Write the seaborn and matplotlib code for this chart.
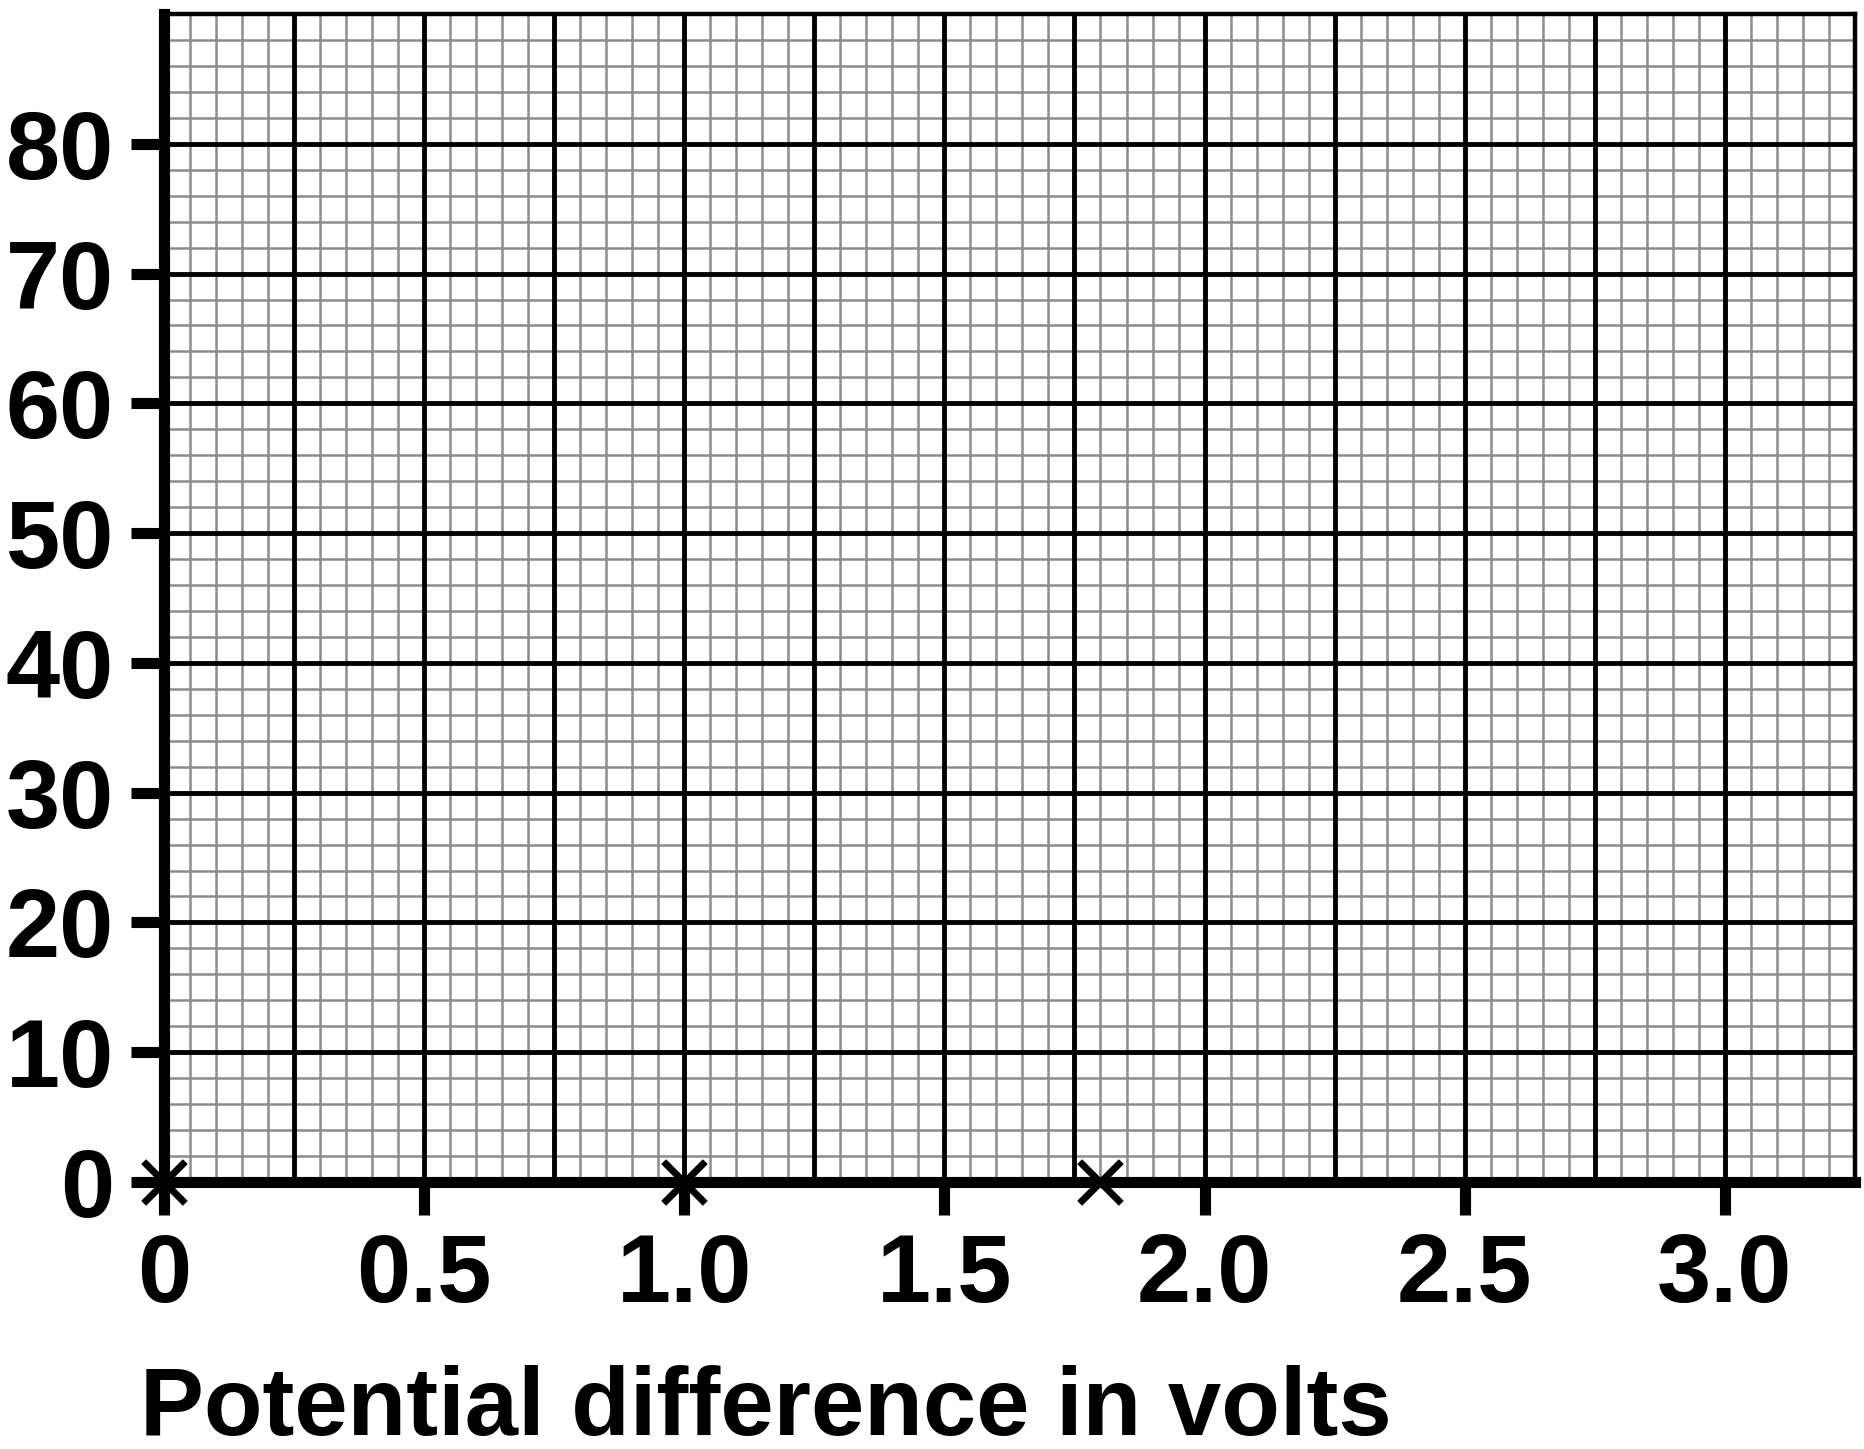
import numpy as np
import matplotlib
matplotlib.use("Agg")
import matplotlib.pyplot as plt
import seaborn as sns

# plotted points (volts, y value)
volts = [0.0, 1.0, 1.8]
values = [0, 0, 0]

x_ticks = [0, 0.5, 1.0, 1.5, 2.0, 2.5, 3.0]
x_labels = ["0", "0.5", "1.0", "1.5", "2.0", "2.5", "3.0"]
y_ticks = [0, 10, 20, 30, 40, 50, 60, 70, 80]
y_labels = ["0", "10", "20", "30", "40", "50", "60", "70", "80"]

sns.set_style("white")
plt.rcParams["font.family"] = ["Liberation Sans", "DejaVu Sans"]
plt.rcParams["font.weight"] = "bold"

fig = plt.figure(figsize=(18.65, 14.49), dpi=100)
ax = fig.add_axes([0.0879, 0.1843, 0.9946 - 0.0879, 0.9903 - 0.1843])
ax.set_xlim(0, 3.25)
ax.set_ylim(0, 90)

# graph paper grid
minor_col = "#8c8c8c"
for v in np.arange(0, 3.2501, 0.05):
    ax.axvline(v, color=minor_col, lw=1.8, zorder=0)
for v in np.arange(0, 90.01, 2):
    ax.axhline(v, color=minor_col, lw=1.8, zorder=0)
for v in np.arange(0.25, 3.25, 0.25):
    ax.axvline(v, color="black", lw=3.5, zorder=1)
for v in np.arange(10, 90, 10):
    ax.axhline(v, color="black", lw=3.5, zorder=1)

sns.scatterplot(x=volts, y=values, ax=ax, marker="x", color="black",
                s=900, linewidth=5, clip_on=False, zorder=5)

ax.set_xticks(x_ticks)
ax.set_xticklabels(x_labels)
ax.set_yticks(y_ticks)
ax.set_yticklabels(y_labels)
ax.tick_params(axis="both", length=24, width=8, color="black", direction="out",
               labelsize=70, pad=12, labelcolor="black", bottom=True, left=True)

for side in ["left", "bottom"]:
    ax.spines[side].set_linewidth(8)
    ax.spines[side].set_color("black")
for side in ["top", "right"]:
    ax.spines[side].set_linewidth(3.2)
    ax.spines[side].set_color("black")
    ax.spines[side].set_visible(True)

ax.set_xlabel("Potential difference in volts", fontsize=69, fontweight="bold",
              ha="left", color="black")
ax.xaxis.set_label_coords(-0.0142, -0.157)
ax.set_ylabel("")

fig.savefig("out.png", dpi=100)
